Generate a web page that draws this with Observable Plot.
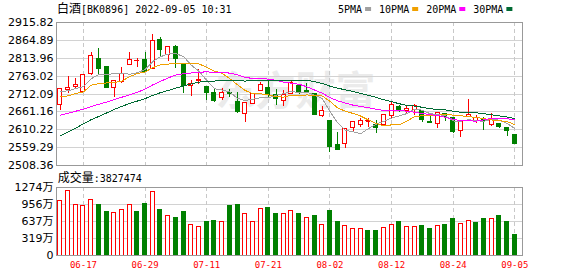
<!DOCTYPE html>
<html><head><meta charset="utf-8">
<script src="https://cdn.jsdelivr.net/npm/d3@7"></script>
<script src="https://cdn.jsdelivr.net/npm/@observablehq/plot@0.6"></script>
<style>
html,body{margin:0;padding:0;background:#fff;}
#wrap{position:relative;width:578px;height:276px;overflow:hidden;background:#fff;}
#wrap svg{position:absolute;left:0;}
</style></head><body><div id="wrap"></div>
<script>
// ---------- data ----------
const titleName = "白酒";
const titleRest = "[BK0896] 2022-09-05 10:31";
const volumeLabel = "成交量";
const latestVolume = 3827474;
const maNames = ["5PMA", "10PMA", "20PMA", "30PMA"];

const dates = ["06-14","06-15","06-16","06-17","06-20","06-21","06-22","06-23","06-24","06-27",
  "06-28","06-29","06-30","07-01","07-04","07-05","07-06","07-07","07-08","07-11",
  "07-12","07-13","07-14","07-15","07-18","07-19","07-20","07-21","07-22","07-25",
  "07-26","07-27","07-28","07-29","08-01","08-02","08-03","08-04","08-05","08-08",
  "08-09","08-10","08-11","08-12","08-15","08-16","08-17","08-18","08-19","08-22",
  "08-23","08-24","08-25","08-26","08-29","08-30","08-31","09-01","09-02","09-05"];
const xTickDates = ["06-17","06-29","07-11","07-21","08-02","08-12","08-24","09-05"];

const open = [2680.6,2723.8,2733.3,2717.3,2770.0,2813.2,2789.2,2730.5,2746.4,2793.5,
  2806.8,2807.6,2782.2,2866.9,2824.5,2846.2,2798.2,2735.1,2749.3,2732.3,
  2716.3,2699.4,2715.4,2690.0,2655.1,2683.4,2721.0,2730.5,2709.7,2690.9,
  2711.6,2735.1,2719.5,2711.6,2650.5,2636.3,2565.8,2570.5,2615.6,2624.1,
  2634.0,2624.1,2624.1,2650.5,2675.9,2664.6,2667.4,2662.7,2631.6,2626.9,
  2655.1,2643.9,2606.2,2645.8,2634.4,2639.1,2624.1,2626.9,2614.7,2594.0];
const high = [2726.5,2762.4,2756.8,2766.0,2831.1,2841.5,2790.0,2749.3,2788.8,2831.1,
  2812.3,2831.1,2881.0,2873.5,2845.2,2850.0,2799.5,2751.1,2782.2,2733.3,
  2725.7,2727.6,2725.7,2716.3,2685.3,2713.5,2744.6,2746.4,2725.7,2722.9,
  2749.3,2735.1,2741.7,2713.5,2675.9,2636.3,2603.4,2612.8,2633.5,2642.9,
  2642.9,2636.3,2652.3,2688.1,2678.7,2675.9,2683.4,2666.5,2647.7,2658.0,
  2657.0,2645.8,2634.4,2695.6,2649.5,2643.9,2657.0,2628.8,2617.5,2594.0];
const low = [2666.5,2713.5,2725.7,2716.0,2763.4,2763.4,2730.5,2702.2,2741.7,2793.5,
  2788.8,2774.7,2782.2,2819.8,2805.7,2785.0,2713.5,2704.1,2738.0,2692.8,
  2688.1,2692.8,2702.2,2657.0,2631.6,2681.5,2719.1,2702.2,2680.6,2675.9,
  2709.7,2711.6,2713.0,2650.5,2645.8,2544.1,2549.8,2556.4,2605.3,2617.5,
  2617.5,2600.6,2621.3,2641.0,2659.9,2655.1,2650.5,2631.6,2628.8,2614.7,
  2634.4,2600.6,2589.3,2643.9,2628.8,2607.8,2619.4,2614.7,2592.1,2568.6];
const close = [2725.7,2728.6,2737.0,2765.3,2821.7,2784.1,2730.5,2749.3,2770.0,2807.6,
  2807.2,2774.7,2864.0,2838.7,2845.2,2812.3,2735.1,2739.8,2752.1,2716.3,
  2692.8,2716.3,2711.6,2661.7,2685.3,2711.6,2737.9,2709.7,2697.5,2709.7,
  2744.6,2716.3,2718.5,2653.3,2664.6,2561.1,2551.7,2612.8,2633.5,2635.5,
  2634.6,2614.7,2652.3,2680.6,2666.5,2668.0,2676.9,2638.2,2629.8,2657.0,
  2647.6,2603.4,2634.4,2652.3,2643.9,2636.3,2636.8,2617.5,2607.2,2568.6];
// volume in 万
const volume = [1007,1193,945,914,1025,932,802,795,839,945,
  802,951,1175,839,727,690,802,572,522,615,
  634,628,914,932,777,628,858,876,764,777,
  820,764,690,727,572,820,615,553,485,485,
  447,447,503,572,615,534,534,541,485,553,
  559,671,590,646,597,671,684,727,615,382.7];

const ma5 = [2719.1,2721.0,2727.6,2732.8,2755.7,2767.3,2767.7,2770.2,2771.1,2768.3,
  2772.9,2781.8,2804.7,2818.4,2826.0,2827.0,2819.1,2794.2,2776.9,2751.1,
  2727.2,2723.5,2717.8,2699.7,2693.5,2697.3,2701.6,2701.2,2708.4,2713.3,
  2719.9,2715.6,2717.3,2708.5,2699.5,2662.8,2629.8,2608.7,2604.7,2598.9,
  2613.6,2626.2,2634.1,2643.5,2649.7,2656.4,2668.9,2666.0,2655.9,2654.0,
  2649.9,2635.2,2634.4,2638.9,2636.3,2634.1,2640.7,2637.4,2628.3,2613.3];
const ma10 = [2704.1,2706.9,2713.5,2718.2,2737.0,2742.0,2743.6,2745.0,2748.5,2762.0,
  2770.1,2774.7,2787.4,2794.8,2797.1,2800.0,2800.4,2799.5,2797.7,2788.5,
  2777.1,2771.3,2756.0,2738.3,2722.3,2712.3,2712.5,2709.5,2704.1,2703.4,
  2708.6,2708.6,2709.3,2708.4,2706.4,2691.3,2672.7,2663.0,2656.6,2649.2,
  2638.2,2628.0,2621.4,2624.1,2624.3,2635.0,2647.5,2650.1,2649.7,2651.9,
  2653.2,2652.0,2650.2,2647.4,2645.2,2642.0,2638.0,2635.9,2633.6,2624.8];
const ma20 = [2652,2657,2663,2669,2676,2683,2689,2696,2703,2710,
  2717,2726,2738,2748,2758,2766,2770,2772,2774,2775.3,
  2773.6,2773.0,2771.7,2766.6,2759.7,2756.1,2756.5,2754.5,2750.9,2746.0,
  2742.8,2739.9,2732.7,2723.4,2714.4,2701.8,2692.6,2686.3,2680.3,2676.3,
  2673.4,2668.3,2665.3,2666.3,2665.4,2663.2,2660.1,2656.5,2653.2,2650.5,
  2645.7,2640.0,2635.8,2635.8,2634.7,2638.5,2642.8,2643.0,2641.7,2638.3];
const ma30 = [2593,2604,2615,2627,2639,2648,2658,2668,2677,2685,
  2692,2699,2708,2716,2722,2729,2735,2741,2746,2748,
  2749,2750,2750,2749.5,2749,2750,2751,2751,2751,2751.3,
  2751.9,2751.5,2750.9,2747.2,2741.9,2734.5,2728.6,2724.0,2719.5,2713.7,
  2708.0,2702.6,2695.6,2690.3,2684.3,2679.5,2677.6,2674.2,2670.1,2668.2,
  2666.6,2662.9,2660.3,2660.0,2658.6,2656.1,2652.7,2649.7,2646.7,2642.0];

const priceTicks = [2508.36,2559.29,2610.22,2661.16,2712.09,2763.02,2813.96,2864.89,2915.82];
const volTicks = [0,319,637,956,1274];

// ---------- styles ----------
const RED = "#ff0000", GREEN = "#008000";
const MA_COLORS = ["#a0a0a0", "#f0a000", "#ff00ff", "#006a33"];
const GRID = "#d2d2d2", VGRID = "#c8c8c8", FRAME = "#999999";

const rows = dates.map((d, i) => ({
  i, date: d, open: open[i], high: high[i], low: low[i], close: close[i],
  vol: volume[i], ma5: ma5[i], ma10: ma10[i], ma20: ma20[i], ma30: ma30[i],
  up: close[i] >= open[i],
  volUp: i === 0 ? close[i] >= open[i] : close[i] >= close[i - 1]
}));
const tickIdx = xTickDates.map(d => dates.indexOf(d));
const xDomain = [-0.5, 60];
const INSET = 1.85;
const crisp = "crispEdges";

const pricePlot = Plot.plot({
  width: 578, height: 166,
  marginLeft: 56, marginRight: 56, marginTop: 22, marginBottom: 1,
  x: {type: "linear", domain: xDomain, axis: null},
  y: {domain: [priceTicks[0], priceTicks[priceTicks.length - 1]]},
  style: {fontFamily: "DejaVu Sans", fontSize: "11px", background: "transparent", overflow: "visible"},
  marks: [
    Plot.text(["东方财富"], {text: d => d, frameAnchor: "middle", dx: 6, dy: -2, fontSize: 40,
      fontWeight: "bold", fill: "#ebebeb", fontFamily: "Noto Sans CJK SC"}),
    Plot.ruleY(priceTicks, {stroke: GRID, shapeRendering: crisp}),
    Plot.ruleX(tickIdx, {stroke: VGRID, strokeDasharray: "4,3", shapeRendering: crisp}),
    Plot.ruleX(rows, {x: "i", y1: "low", y2: "high", stroke: d => d.up ? RED : GREEN, shapeRendering: crisp}),
    Plot.rect(rows, {x1: d => d.i - 0.5, x2: d => d.i + 0.5, y1: "open", y2: "close",
      insetLeft: INSET, insetRight: INSET,
      fill: d => d.up ? "#ffffff" : GREEN, stroke: d => d.up ? RED : GREEN, shapeRendering: crisp}),
    Plot.ruleY(rows.filter(d => Math.abs(d.close - d.open) < 1.5), {y: "close",
      x1: d => d.i - 0.5, x2: d => d.i + 0.5, insetLeft: INSET, insetRight: INSET,
      stroke: d => d.up ? RED : GREEN, shapeRendering: crisp}),
    Plot.line(rows, {x: "i", y: "ma5", stroke: MA_COLORS[0], strokeWidth: 1, shapeRendering: crisp}),
    Plot.line(rows, {x: "i", y: "ma10", stroke: MA_COLORS[1], strokeWidth: 1, shapeRendering: crisp}),
    Plot.line(rows, {x: "i", y: "ma20", stroke: MA_COLORS[2], strokeWidth: 1, shapeRendering: crisp}),
    Plot.line(rows, {x: "i", y: "ma30", stroke: MA_COLORS[3], strokeWidth: 1, shapeRendering: crisp}),
    Plot.frame({stroke: FRAME, shapeRendering: crisp}),
    Plot.axisY(priceTicks, {tickSize: 0, tickPadding: 3, tickFormat: d => d.toFixed(2), label: null,
      fill: "#000", fontSize: 11, fontFamily: "DejaVu Sans"})
  ]
});
pricePlot.style.top = "0px";
document.getElementById("wrap").appendChild(pricePlot);

const volPlot = Plot.plot({
  width: 578, height: 110,
  marginLeft: 56, marginRight: 56, marginTop: 20.5, marginBottom: 21,
  x: {type: "linear", domain: xDomain},
  y: {domain: [0, volTicks[volTicks.length - 1]]},
  style: {fontFamily: "DejaVu Sans", fontSize: "11px", background: "transparent", overflow: "visible"},
  marks: [
    Plot.ruleY(volTicks.slice(1, -1), {stroke: GRID, shapeRendering: crisp}),
    Plot.ruleX(tickIdx, {stroke: VGRID, strokeDasharray: "4,3", shapeRendering: crisp}),
    Plot.rect(rows, {x1: d => d.i - 0.5, x2: d => d.i + 0.5, y1: () => 0, y2: "vol",
      insetLeft: INSET, insetRight: INSET,
      fill: d => d.volUp ? "#ffffff" : GREEN, stroke: d => d.volUp ? RED : GREEN, shapeRendering: crisp}),
    Plot.frame({stroke: FRAME, shapeRendering: crisp}),
    Plot.axisY(volTicks, {tickSize: 0, tickPadding: 3, label: null,
      tickFormat: d => d === 0 ? "0" : d + "万", fill: "#000", fontSize: 11,
      fontFamily: "DejaVu Sans, Noto Sans CJK SC"}),
    Plot.axisX(tickIdx, {tickSize: 0, tickPadding: 6, label: null, tickFormat: i => dates[i],
      fill: RED, fontSize: 9, fontFamily: "DejaVu Sans Mono"})
  ]
});
volPlot.style.top = "166px";
document.getElementById("wrap").appendChild(volPlot);

// ---------- header, legend, volume caption ----------
const ov = d3.select("#wrap").append("svg")
  .attr("width", 578).attr("height", 276)
  .style("top", "0px").style("pointer-events", "none");

function mixedText(x, y, cjk, ascii) {
  const t = ov.append("text").attr("x", x).attr("y", y).attr("fill", "#000");
  t.append("tspan").attr("font-family", "Noto Sans CJK SC").attr("font-size", 12).text(cjk);
  t.append("tspan").attr("font-family", "DejaVu Sans Mono").attr("font-size", 10).text(ascii);
}
mixedText(57, 12.7, titleName, titleRest);
mixedText(57.7, 181.7, volumeLabel, ":" + latestVolume);

const CH = 6.02;
let lx = 338;
maNames.forEach((name, k) => {
  ov.append("text").attr("x", lx).attr("y", 12.7).attr("fill", "#000")
    .attr("font-family", "DejaVu Sans Mono").attr("font-size", 10).text(name);
  const sx = lx + name.length * CH + 3;
  ov.append("rect").attr("x", sx).attr("y", 7).attr("width", 6).attr("height", 4)
    .attr("fill", MA_COLORS[k]);
  lx = sx + 6 + 8;
});
</script></body></html>
